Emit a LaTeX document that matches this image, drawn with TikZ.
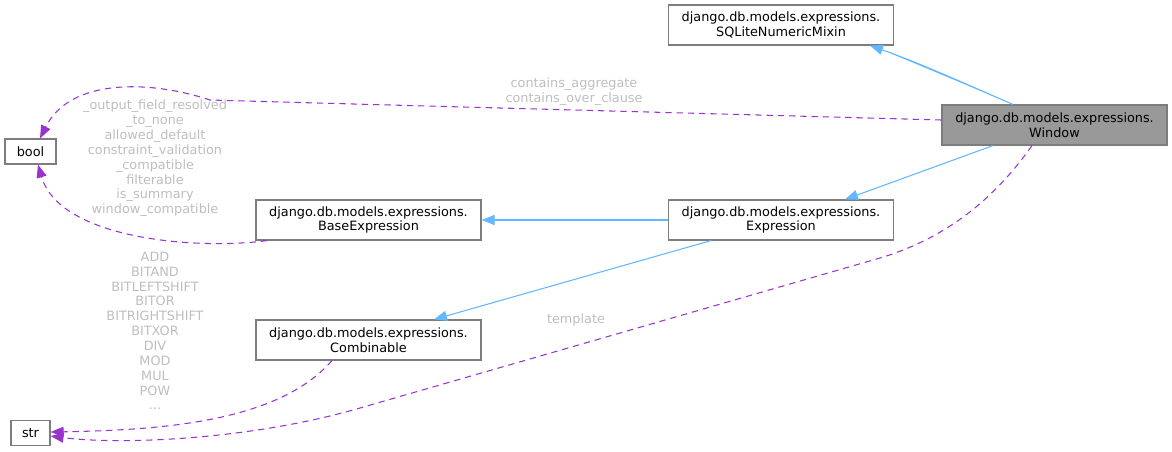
\documentclass[tikz,border=0pt]{standalone}
\usepackage{fontspec}
\setmainfont{DejaVu Sans}
\usetikzlibrary{arrows.meta,positioning}
\definecolor{inhblue}{RGB}{99,184,255}
\definecolor{usepurple}{RGB}{154,50,205}
\definecolor{lblgray}{RGB}{190,190,190}
\definecolor{boxline}{RGB}{125,125,125}
\definecolor{curfill}{RGB}{153,153,153}

\begin{document}
\begin{tikzpicture}[x=0.02cm, y=-0.02cm,
        font=\fontsize{7.3}{8.45}\selectfont,
        cls/.style={draw=boxline, fill=white, line width=0.65pt, align=center,
          minimum width=4.5cm, minimum height=0.8cm, inner sep=1pt},
        leaf/.style={draw=boxline, fill=white, line width=0.65pt, inner sep=1pt,
          minimum height=0.5cm},
        inherit/.style={-{Triangle[length=2.6mm, width=2mm]}, draw=inhblue,
          fill=inhblue, line width=0.6pt},
        uses/.style={-{Triangle[length=2.6mm, width=2mm]}, draw=usepurple,
          line width=0.6pt, dash pattern=on 3.6pt off 2.8pt},
        memb/.style={text=lblgray, align=center, inner sep=0pt}
      ]
      \useasboundingbox (0,0) rectangle (1172,451);

      % classes
      \node[cls] (sqlmix) at (781,25) {django.db.models.expressions.\\SQLiteNumericMixin};
      \node[cls, fill=curfill] (win) at (1054.5,125) {django.db.models.expressions.\\Window};
      \node[cls] (expr) at (781,220) {django.db.models.expressions.\\Expression};
      \node[cls] (baseexpr) at (368.5,220) {django.db.models.expressions.\\BaseExpression};
      \node[cls] (comb) at (368.5,340) {django.db.models.expressions.\\Combinable};
      \node[leaf, minimum width=1.02cm] (bool) at (30.5,151.5) {bool};
      \node[leaf, minimum width=0.78cm] (str) at (30.5,433) {str};

      % inheritance
      \draw[inherit] (1013,0 |- win.north) .. controls (975,88) and (920,63) .. (870,0 |- sqlmix.south);
      \draw[inherit] (993,0 |- win.south) -- (845,0 |- expr.north);
      \draw[inherit] (expr.west) -- (baseexpr.east);
      \draw[inherit] (711,0 |- expr.south) -- (434,0 |- comb.north);

      % member usage
      \draw[uses] (win.west |- 0,120) .. controls (650,112) and (350,104) .. (210,100)
        .. controls (150,80) and (70,78) .. (40,0 |- bool.north);
      \draw[uses] (267,0 |- baseexpr.south) .. controls (200,250) and (60,240) .. (38,0 |- bool.south);
      \draw[uses] (332,0 |- comb.south) .. controls (280,420) and (170,430) .. (str.east |- 0,432);
      \draw[uses] (1032,0 |- win.south) .. controls (990,205) and (940,240) .. (880,258)
        -- (360,408) .. controls (250,440) and (120,445) .. (str.east |- 0,436);

      % member labels
      \node[memb] (lblwin) at (574,92) {contains\_aggregate\\contains\_over\_clause};
      \node[memb] (lblbool) at (155,158.5) {\_output\_field\_resolved\\\_to\_none\\allowed\_default\\constraint\_validation\\\_compatible\\filterable\\is\_summary\\window\_compatible};
      \node[memb] (lblstr) at (155,331) {ADD\\BITAND\\BITLEFTSHIFT\\BITOR\\BITRIGHTSHIFT\\BITXOR\\DIV\\MOD\\MUL\\POW\\...};
      \node[memb] (lbltpl) at (576,320) {template};
    \end{tikzpicture}
\end{document}
